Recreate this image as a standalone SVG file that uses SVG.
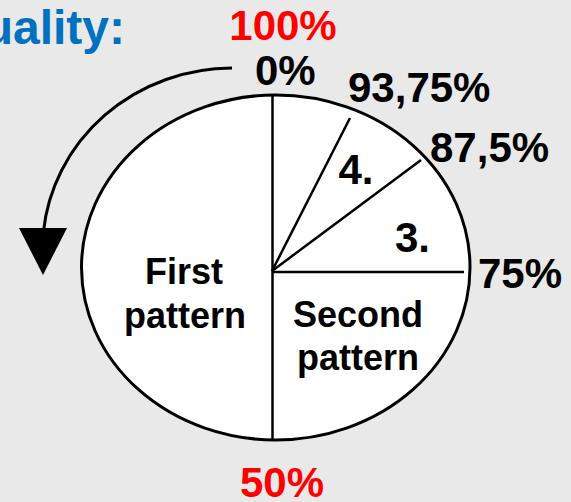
<svg xmlns="http://www.w3.org/2000/svg" width="571" height="502" viewBox="0 0 571 502">
<style>
text{font-family:"Liberation Sans",Arial,sans-serif;font-weight:bold}
.pct{font-size:42px;fill:#000}
.red{font-size:42px;fill:#ff0000;text-anchor:middle}
.lbl{font-size:36px;fill:#000;text-anchor:middle}
.seg{stroke:#000;stroke-width:2.5;fill:none}
</style>
<rect x="0" y="0" width="571" height="502" fill="#e9e9e9"/>
<text x="125" y="44" font-size="48" fill="#0070c0" text-anchor="end">uality:</text>
<g id="pie">
<ellipse cx="275.75" cy="267.5" rx="194.25" ry="172.5" fill="#fff" stroke="#000" stroke-width="3"/>
</g>
<g id="connectors">
<line class="seg" x1="272.5" y1="95" x2="272.5" y2="440"/>
<line class="seg" x1="272" y1="272" x2="464" y2="272"/>
<line class="seg" x1="272" y1="271" x2="350" y2="118"/>
<line class="seg" x1="272" y1="271" x2="421" y2="160"/>
<path d="M232,68 A190,182 0 0 0 43.4,232" fill="none" stroke="#000" stroke-width="3"/>
<polygon points="19,228 67,228 43,275" fill="#000"/>
</g>
<g id="first-pattern">
<text class="lbl" x="184" y="284">First</text>
<text class="lbl" x="185" y="328">pattern</text>
</g>
<g id="second-pattern">
<text class="lbl" x="358" y="327">Second</text>
<text class="lbl" x="358" y="370">pattern</text>
</g>
<g id="seg3"><text class="pct" x="395" y="251.7">3.</text></g>
<g id="seg4"><text class="pct" x="338.5" y="184">4.</text></g>
<g id="labels">
<text class="red" x="283" y="40">100%</text>
<text class="pct" x="255" y="85">0%</text>
<text class="pct" x="348" y="101.7">93,75%</text>
<text class="pct" x="430" y="161.7">87,5%</text>
<text class="pct" x="478" y="288">75%</text>
<text class="red" x="282" y="496.7">50%</text>
</g>
</svg>
